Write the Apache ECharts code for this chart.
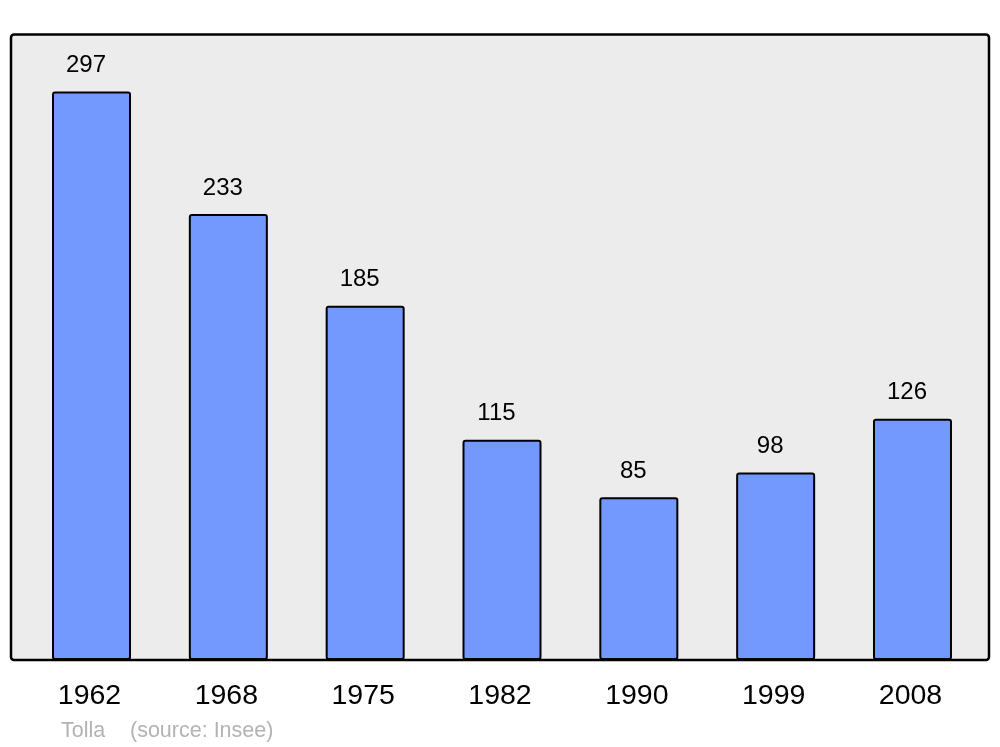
<!DOCTYPE html>
<html><head><meta charset="utf-8">
<script src="https://cdn.jsdelivr.net/npm/echarts@6/dist/echarts.min.js"></script>
<style>html,body{margin:0;padding:0;background:#fff}#c{width:1000px;height:747px}</style>
</head><body><div id="c"></div>
<script>
const years = ['1962','1968','1975','1982','1990','1999','2008'];
const population = [297, 233, 185, 115, 85, 98, 126];
const commune = 'Tolla';
const sourceText = '(source: Insee)';

const chart = echarts.init(document.getElementById('c'), null, {renderer: 'canvas'});
const FONT = '"Liberation Sans", Arial, sans-serif';
chart.setOption({
  animation: false,
  backgroundColor: '#ffffff',
  grid: {left: 23.1, width: 957.8, top: 34, bottom: 87, containLabel: false},
  xAxis: {
    type: 'category', data: years,
    axisLine: {show: false}, axisTick: {show: false},
    axisLabel: {fontSize: 28.5, color: '#000', fontFamily: FONT, margin: 22, padding: [0, 4, 0, 0]}
  },
  yAxis: {type: 'value', min: 0, max: 327, show: false, splitLine: {show: false}},
  graphic: [
    {type: 'rect', z: -10, shape: {x: 11, y: 34.5, width: 978, height: 625.5, r: 3},
     style: {fill: '#ececec', stroke: '#000', lineWidth: 2.5}},
    {type: 'text', left: 61, top: 720, style: {text: commune, fill: '#b3b3b3', font: '21.5px ' + FONT}},
    {type: 'text', left: 130, top: 720, style: {text: sourceText, fill: '#b3b3b3', font: '21.5px ' + FONT}}
  ],
  series: [{
    type: 'bar', data: population, barWidth: 79,
    itemStyle: {color: '#7399ff', borderColor: '#000', borderWidth: 2, borderRadius: 2},
    label: {show: true, position: 'top', distance: 14, offset: [-5.5, 0],
      fontSize: 24, color: '#000', fontFamily: FONT}
  }]
});
</script></body></html>
